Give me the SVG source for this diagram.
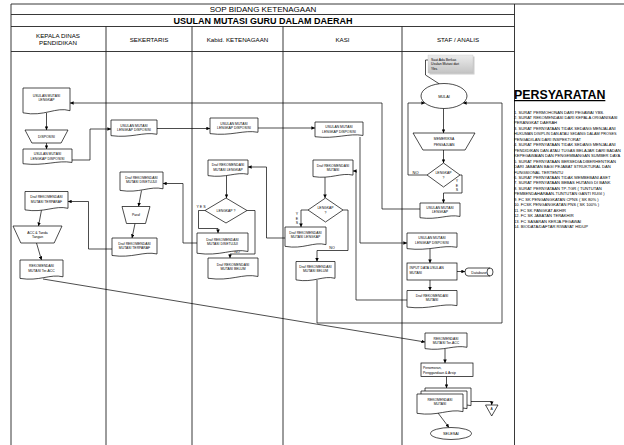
<svg xmlns="http://www.w3.org/2000/svg" width="624" height="445" viewBox="0 0 624 445">
<defs>
<style>
.ln{fill:none;stroke:#000;stroke-width:0.7}
.ar{marker-end:url(#ah)}
.sh{fill:#fff;stroke:#000;stroke-width:0.7}
.grid{stroke:#222;stroke-width:0.9;fill:none}
text{font-family:"Liberation Sans",Arial,sans-serif;fill:#000}
.t{font-size:3.4px;text-anchor:middle}
.tl{font-size:3.4px}
.h{font-size:6.2px;text-anchor:middle}
.req{font-size:4.1px}
</style>
<marker id="ah" viewBox="0 0 10 10" refX="10" refY="5" markerWidth="3.6" markerHeight="3.6" markerUnits="userSpaceOnUse" orient="auto"><path d="M0,0 L10,5 L0,10 Z" fill="#000"/></marker>
<symbol id="doc" viewBox="0 0 100 100" preserveAspectRatio="none" overflow="visible"><path d="M0,0 H100 V84 C70,68 45,108 0,92 Z" vector-effect="non-scaling-stroke"/></symbol>
<symbol id="trap" viewBox="0 0 100 100" preserveAspectRatio="none" overflow="visible"><path d="M0,0 H100 L84,100 H16 Z" vector-effect="non-scaling-stroke"/></symbol>
<symbol id="dia" viewBox="0 0 100 100" preserveAspectRatio="none" overflow="visible"><path d="M50,0 L100,50 L50,100 L0,50 Z" vector-effect="non-scaling-stroke"/></symbol>
<linearGradient id="cg" x1="0" y1="0" x2="0" y2="1"><stop offset="0" stop-color="#ececec"/><stop offset="1" stop-color="#c4c4c4"/></linearGradient>
</defs>

<g id="frame">
<path class="grid" d="M11,4 H624 M11,4 V445 M514.5,4 V445 M11,14.5 H514.5 M11,26.5 H514.5 M11,51.5 H514.5 M106,26.5 V445 M192,26.5 V445 M283,26.5 V445 M402,26.5 V445"/>
<text x="263" y="12" font-size="8" text-anchor="middle">SOP BIDANG KETENAGAAN</text>
<text x="263" y="23.5" font-size="9" font-weight="bold" text-anchor="middle">USULAN MUTASI GURU DALAM DAERAH</text>
<text class="h" x="58" y="38">KEPALA DINAS</text>
<text class="h" x="58" y="45">PENDIDIKAN</text>
<text class="h" x="149" y="41.5">SEKERTARIS</text>
<text class="h" x="237.5" y="41.5">Kabid. KETENAGAAN</text>
<text class="h" x="342.5" y="41.5">KASI</text>
<text class="h" x="458" y="41.5">STAF / ANALIS</text>
</g>

<g id="connectors">
<path class="ln ar" d="M46.5,113 V130"/>
<path class="ln ar" d="M46.5,143 V149"/>
<path class="ln ar" d="M72,160 H90 V129 H111"/>
<path class="ln ar" d="M157,128.5 H210"/>
<path class="ln ar" d="M258,128 H315"/>
<path class="ln ar" d="M360,137 V243 H407"/>
<path class="ln ar" d="M443.5,108.5 V133"/>
<path class="ln ar" d="M443.5,150 V163"/>
<path class="ln ar" d="M427,175 H408 V103 H425"/>
<path class="ln ar" d="M460,175 H462 V193 H443.5 V203"/>
<path class="ln ar" d="M420,209 H382 V103 H70"/>
<path class="ln ar" d="M430,249 V263"/>
<path class="ln ar" d="M457,271.5 H465"/>
<path class="ln ar" d="M430,280 V290.5"/>
<path class="ln ar" d="M407,300 H356 V171 H353"/>
<path class="ln ar" d="M325,176.5 V198"/>
<path class="ln ar" d="M308,210 H301 V227"/>
<path class="ln ar" d="M343,210 H348 V250.5 H317 V261.5"/>
<path class="ln ar" d="M317,280 V323 H502 V103 H463"/>
<path class="ln ar" d="M285,238 H266.5 V167 H248"/>
<path class="ln ar" d="M226.5,176 V198"/>
<path class="ln ar" d="M205,210.5 H198.5 V228.5 H218 V233"/>
<path class="ln ar" d="M247,210.5 H255 V254 H230 V258"/>
<path class="ln ar" d="M197,243 H183 V183.5 H163"/>
<path class="ln ar" d="M141.5,190.5 L138.5,206.5"/>
<path class="ln ar" d="M135,223.5 L132,238"/>
<path class="ln ar" d="M112,249 H88.5 V201.5 H68"/>
<path class="ln ar" d="M41.5,210 L38.5,226"/>
<path class="ln ar" d="M36.5,243 L41.5,260"/>
<path class="ln ar" d="M43,279 L425,342"/>
<path class="ln ar" d="M445,349 V363"/>
<path class="ln ar" d="M446.5,376.5 V388"/>
<path class="ln ar" d="M471,401.5 H491.7 V405"/>
<path class="ln ar" d="M438,413 L449,427.5"/>
<path class="ln" d="M428,60 H425.5 V75 L441,85"/>
<text class="t" x="415.5" y="173.5" style="font-size:4px">NO</text>
<text class="t" x="457" y="182" style="font-size:3.6px">Y</text>
<text class="t" x="457" y="186.5" style="font-size:3.6px">E</text>
<text class="t" x="457" y="191" style="font-size:3.6px">S</text>
<text class="t" x="297" y="215" style="font-size:3.6px">Y</text>
<text class="t" x="297" y="219.5" style="font-size:3.6px">E</text>
<text class="t" x="297" y="224" style="font-size:3.6px">S</text>
<text class="t" x="332" y="249" style="font-size:3.6px">NO</text>
<text class="t" x="201" y="208" style="font-size:3.6px">Y E S</text>
<text class="t" x="237" y="253" style="font-size:3.6px">NO</text>
</g>

<g id="k1"><use href="#doc" class="sh" x="23" y="88" width="47" height="27"/><text class="t" x="46.5" y="97">USULAN MUTASI</text><text class="t" x="46.5" y="101">LENGKAP</text></g>
<g id="k2"><use href="#trap" class="sh" x="25" y="130" width="43" height="13"/><text class="t" x="46.5" y="137.5">DISPOSISI</text></g>
<g id="k3"><use href="#doc" class="sh" x="23" y="149" width="49" height="16"/><text class="t" x="47.5" y="155">USULAN MUTASI</text><text class="t" x="47.5" y="159.5">LENGKAP DISPOSISI</text></g>
<g id="k4"><use href="#doc" class="sh" x="25" y="191.5" width="43" height="20"/><text class="t" x="46.5" y="198">Draf REKOMENDASI</text><text class="t" x="46.5" y="202.5">MUTASI TERPARAF</text></g>
<g id="k5"><use href="#trap" class="sh" x="13" y="226" width="49" height="17"/><text class="t" x="37.5" y="233.5">ACC &amp; Tanda</text><text class="t" x="37.5" y="238">Tangan</text></g>
<g id="k6"><use href="#doc" class="sh" x="20" y="260" width="43" height="20"/><text class="t" x="41.5" y="267">REKOMENDASI</text><text class="t" x="41.5" y="271.5">MUTASI Ter-ACC</text></g>

<g id="s1"><use href="#doc" class="sh" x="111" y="120" width="46" height="17"/><text class="t" x="134" y="126.5">USULAN MUTASI</text><text class="t" x="134" y="131">LENGKAP DISPOSISI</text></g>
<g id="s2"><use href="#doc" class="sh" x="120" y="172" width="43" height="20"/><text class="t" x="141.5" y="178.5">Draf REKOMENDASI</text><text class="t" x="141.5" y="183">MUTASI DISETUJUI</text></g>
<g id="s3"><use href="#trap" class="sh" x="122" y="206.5" width="28" height="17"/><text class="t" x="136" y="216">Paraf</text></g>
<g id="s4"><use href="#doc" class="sh" x="112" y="238" width="45" height="19"/><text class="t" x="134.5" y="244.5">Draf REKOMENDASI</text><text class="t" x="134.5" y="249">MUTASI TERPARAF</text></g>

<g id="b1"><use href="#doc" class="sh" x="210" y="118" width="48" height="17"/><text class="t" x="234" y="124.5">USULAN MUTASI</text><text class="t" x="234" y="129">LENGKAP DISPOSISI</text></g>
<g id="b2"><use href="#doc" class="sh" x="208" y="160" width="40" height="17"/><text class="t" x="228" y="166">Draf REKOMENDASI</text><text class="t" x="228" y="170.5">MUTASI LENGKAP</text></g>
<g id="b3"><use href="#dia" class="sh" x="205" y="198" width="42" height="25"/><text class="t" x="226" y="211.5">LENGKAP ?</text></g>
<g id="b4"><use href="#doc" class="sh" x="197" y="233" width="51" height="22"/><text class="t" x="222.5" y="240.5">Draf REKOMENDASI</text><text class="t" x="222.5" y="245">MUTASI DISETUJUI</text></g>
<g id="b5"><use href="#doc" class="sh" x="208" y="258" width="50" height="22"/><text class="t" x="233" y="265.5">Draf REKOMENDASI</text><text class="t" x="233" y="270">MUTASI BELUM</text></g>

<g id="ks1"><use href="#doc" class="sh" x="315" y="122" width="48" height="16"/><text class="t" x="339" y="128">USULAN MUTASI</text><text class="t" x="339" y="132.5">LENGKAP DISPOSISI</text></g>
<g id="ks2"><use href="#doc" class="sh" x="313" y="160" width="40" height="18"/><text class="t" x="333" y="166.5">Draf REKOMENDASI</text><text class="t" x="333" y="171">MUTASI</text></g>
<g id="ks3"><use href="#dia" class="sh" x="308" y="198" width="35" height="24"/><text class="t" x="325.5" y="209">LENGKAP</text><text class="t" x="325.5" y="213.5">?</text></g>
<g id="ks4"><use href="#doc" class="sh" x="285" y="227" width="41" height="21"/><text class="t" x="305.5" y="233.5">Draf REKOMENDASI</text><text class="t" x="305.5" y="238">MUTASI LENGKAP</text></g>
<g id="ks5"><use href="#doc" class="sh" x="296" y="261.5" width="39" height="20"/><text class="t" x="315.5" y="267.5">Draf REKOMENDASI</text><text class="t" x="315.5" y="272">MUTASI BELUM</text></g>

<g id="st-note"><rect x="429.5" y="56.5" width="45" height="18" fill="#999" opacity="0.5"/><rect x="428" y="55" width="45" height="18" fill="url(#cg)" stroke="#bbb" stroke-width="0.3"/><text class="tl" x="431" y="60.5">Saat Ada Berkas</text><text class="tl" x="431" y="65">Usulan Mutasi dari</text><text class="tl" x="431" y="69.5">Ybs.</text></g>
<g id="st-mulai"><ellipse class="sh" cx="444" cy="96" rx="23" ry="12.5"/><text class="t" x="444" y="97.5" style="font-size:3.8px">MULAI</text></g>
<g id="st-periksa"><use href="#trap" class="sh" x="413" y="133" width="62" height="17"/><text class="t" x="444" y="140">MEMERIKSA</text><text class="t" x="444" y="145.5">PENGAJUAN</text></g>
<g id="st-lengkap"><use href="#dia" class="sh" x="427" y="163" width="33" height="24"/><text class="t" x="443.5" y="174">LENGKAP</text><text class="t" x="443.5" y="178.5">?</text></g>
<g id="st-usulan"><use href="#doc" class="sh" x="420" y="203" width="40" height="16"/><text class="t" x="440" y="208.5">USULAN MUTASI</text><text class="t" x="440" y="213">LENGKAP</text></g>
<g id="st-disposisi"><use href="#doc" class="sh" x="407" y="233" width="50" height="17"/><text class="t" x="432" y="239">USULAN MUTASI</text><text class="t" x="432" y="243.5">LENGKAP DISPOSISI</text></g>
<g id="st-input"><rect class="sh" x="407" y="263" width="50" height="17"/><text class="tl" x="409.5" y="268.5">INPUT DATA USULAN</text><text class="tl" x="409.5" y="273.5">MUTASI</text></g>
<g id="st-db"><path class="sh" d="M468,268 H490 A3,4 0 0 1 490,276 H468 A3,4 0 0 1 468,268 Z M490,268 A3,4 0 0 0 490,276"/><text class="t" x="479" y="273.5" style="font-size:3.6px">Database</text></g>
<g id="st-draf"><use href="#doc" class="sh" x="407" y="290.5" width="50" height="18"/><text class="t" x="432" y="296.5">Draf REKOMENDASI</text><text class="t" x="432" y="301">MUTASI</text></g>
<g id="st-acc"><use href="#doc" class="sh" x="425" y="333" width="42" height="17"/><text class="t" x="446" y="339.5">REKOMENDASI</text><text class="t" x="446" y="344">MUTASI Ter-ACC</text></g>
<g id="st-nomor"><rect class="sh" x="421" y="363" width="52" height="13.5"/><text class="tl" x="423" y="368.5">Penomoran,</text><text class="tl" x="423" y="373.5">Penggandaan &amp; Arsip</text></g>
<g id="st-rekom"><use href="#doc" class="sh" x="425" y="388" width="46" height="21"/><use href="#doc" class="sh" x="421" y="391" width="46" height="21"/><use href="#doc" class="sh" x="417" y="394" width="46" height="21"/><text class="t" x="440" y="400.5">REKOMENDASI</text><text class="t" x="440" y="405">MUTASI</text></g>
<g id="st-arsip"><path class="sh" d="M485.5,405 H498 L491.7,416 Z"/><text class="t" x="491.7" y="410">A</text></g>
<g id="st-selesai"><ellipse class="sh" cx="451" cy="433.5" rx="20.5" ry="6"/><text class="t" x="451" y="435" style="font-size:3.8px">SELESAI</text></g>

<g id="persyaratan">
<text x="514" y="99" font-size="12.4" font-weight="bold" text-decoration="underline">PERSYARATAN</text>
<text class="req" x="514" y="113.5">1. SURAT PERMOHONAN DARI PEGAWAI YBS.</text>
<text class="req" x="514" y="119">2. SURAT REKOMENDASI DARI KEPALA ORGANISASI</text>
<text class="req" x="514" y="124.4">PERANGKAT DAERAH</text>
<text class="req" x="514" y="129.9">3. SURAT PERNYATAAN TIDAK SEDANG MENJALANI</text>
<text class="req" x="514" y="135.3" style="font-size:3.75px">HUKUMAN DISIPLIN DAN ATAU SEDANG DALAM PROSES</text>
<text class="req" x="514" y="140.8">PENGADILAN DARI INSPEKTORAT</text>
<text class="req" x="514" y="146.2">4. SURAT PERNYATAAN TIDAK SEDANG MENJALANI</text>
<text class="req" x="514" y="151.7">PENDIDIKAN DAN ATAU TUGAS BELAJAR DARI BADAN</text>
<text class="req" x="514" y="157.1">KEPEGAWAIAN DAN PENGEMBANGAN SUMBER DAYA</text>
<text class="req" x="514" y="162.6">5. SURAT PERNYATAAN  BERSEDIA DIBERHENTIKAN</text>
<text class="req" x="514" y="168">DARI JABATAN BAGI PEJABAT STRUKTURAL DAN</text>
<text class="req" x="514" y="173.5">FUNGSIONAL TERTENTU</text>
<text class="req" x="514" y="178.9">6. SURAT PERNYATAAN TIDAK MEMBEBANI ASET</text>
<text class="req" x="514" y="184.4">7. SURAT PERNYATAAN BEBAS HUTANG DI BANK</text>
<text class="req" x="514" y="189.8">8. SURAT PERNYATAAN TP-TGR ( TUNTUTAN</text>
<text class="req" x="514" y="195.3">PEMBENDAHARAAN-TUNTUTAN GANTI RUGI )</text>
<text class="req" x="514" y="200.7">9. FC SK PENGANGKATAN CPNS ( SK 80% )</text>
<text class="req" x="514" y="206.2">10. FCSK PENGANGKATAN PNS ( SK 100% )</text>
<text class="req" x="514" y="211.6">11.  FC SK PANGKAT AKHIR</text>
<text class="req" x="514" y="217.1">12. FC SK JABATAN TERAKHIR</text>
<text class="req" x="514" y="222.5">13. FC SASARAN KERJA PEGAWAI</text>
<text class="req" x="514" y="228">14. BIODATA/DAFTAR RIWAYAT HIDUP</text>
</g>
</svg>
